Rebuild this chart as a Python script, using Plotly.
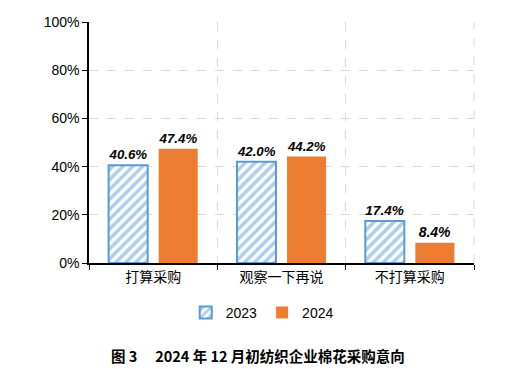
import plotly.graph_objects as go

categories = ["打算采购", "观察一下再说", "不打算采购"]
values_2023 = [40.6, 42.0, 17.4]
values_2024 = [47.4, 44.2, 8.4]
series_names = ["2023", "2024"]
y_ticks = [0, 20, 40, 60, 80, 100]
y_tick_labels = ["0%", "20%", "40%", "60%", "80%", "100%"]
title_text = "图 3　 2024 年 12 月初纺织企业棉花采购意向"

blue = "#5B9BD5"
orange = "#ED7D31"
grid_color = "#D9D9D9"
label_font = dict(family="Liberation Sans, Arial", size=14, color="black", weight="bold", style="italic")

fig = go.Figure()
fig.add_trace(go.Bar(
    x=categories, y=values_2023, name=series_names[0],
    marker=dict(color="white", line=dict(color=blue, width=2),
                pattern=dict(shape="/", fgcolor=blue, bgcolor="white", size=7, solidity=0.5)),
    texttemplate="%{y:.1f}%", textposition="outside", cliponaxis=False,
    textfont=label_font,
))
fig.add_trace(go.Bar(
    x=categories, y=values_2024, name=series_names[1],
    marker=dict(color=orange, line=dict(width=0)),
    texttemplate="%{y:.1f}%", textposition="outside", cliponaxis=False,
    textfont=label_font,
))

fig.update_layout(
    width=516, height=361,
    margin=dict(l=81, r=50, t=14, b=106, autoexpand=False),
    paper_bgcolor="white", plot_bgcolor="white",
    barmode="group", bargap=0.22, bargroupgap=0.22,
    showlegend=True,
    legend=dict(orientation="h", x=0.45, xanchor="center", y=-0.207, yanchor="middle",
                font=dict(family="Liberation Sans, Arial", size=14, color="black"),
                itemwidth=30, tracegroupgap=0),
    font=dict(family="Liberation Sans, Arial", color="black"),
)
fig.update_xaxes(
    showline=True, linecolor="black", linewidth=1.5,
    ticks="outside", tickson="boundaries", ticklen=5, tickcolor="black",
    showgrid=True, gridcolor=grid_color, griddash="dash", gridwidth=1,
    tickfont=dict(family="Noto Sans CJK SC", size=14, color="black"),
    automargin=False,
)
fig.update_yaxes(
    range=[0, 100], tickvals=y_ticks, ticktext=y_tick_labels,
    showline=True, linecolor="black", linewidth=1.5,
    ticks="outside", ticklen=5, tickcolor="black",
    showgrid=True, gridcolor=grid_color, griddash="dash", gridwidth=1,
    tickfont=dict(family="Liberation Sans, Arial", size=14, color="black"),
    zeroline=False, automargin=False,
)
# right-hand dashed border of the plot area
fig.add_shape(type="line", xref="paper", yref="paper", x0=1, x1=1, y0=0, y1=1,
              line=dict(color=grid_color, width=1, dash="dash"), layer="below")
fig.add_annotation(
    text=title_text, xref="paper", yref="paper", x=0.44, y=-0.382,
    showarrow=False, xanchor="center", yanchor="middle",
    font=dict(family="Noto Sans CJK SC", size=14.5, color="black", weight="bold"),
)
fig.write_html("out.html")
